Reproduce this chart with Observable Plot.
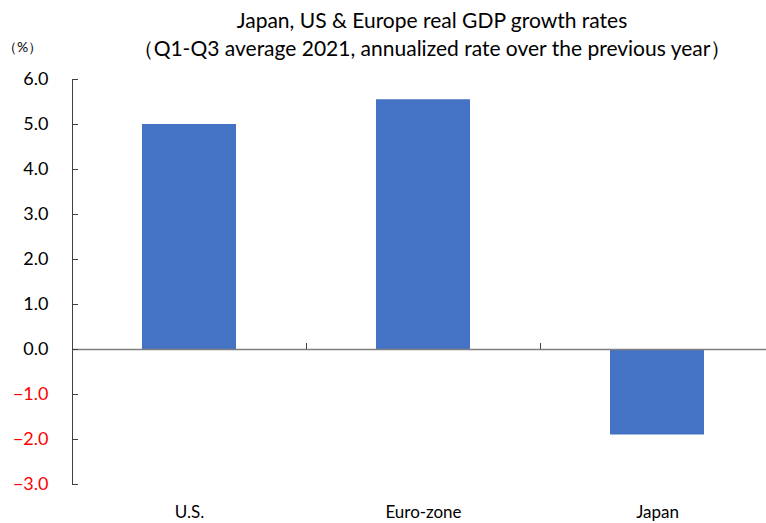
<!DOCTYPE html>
<html>
<head>
<meta charset="utf-8">
<script src="https://cdn.jsdelivr.net/npm/d3@7"></script>
<script src="https://cdn.jsdelivr.net/npm/@observablehq/plot@0.6"></script>
<style>
  html, body { margin: 0; padding: 0; background: #fff; overflow: hidden; }
  #wrap { position: relative; width: 766px; height: 523px; font-family: Lato, "Open Sans", sans-serif; color: #000; }
  #head { position: relative; height: 62px; }
  .t { position: absolute; white-space: nowrap; transform: translateX(-50%); left: 432px; }
  #t1 { top: 7px; font-size: 21px; }
  #t2 { top: 35px; font-size: 21px; }
  #unit { position: absolute; left: 3px; top: 38px; font-size: 14px; }
  svg { display: block; }
</style>
</head>
<body>
<div id="wrap">
  <div id="head">
    <div class="t" id="t1">Japan, US &amp; Europe real GDP growth rates</div>
    <div class="t" id="t2">（Q1-Q3 average 2021, annualized rate over the previous year）</div>
    <div id="unit">（%）</div>
  </div>
  <div id="chart"></div>
</div>
<script>
const categories = ["U.S.", "Euro-zone", "Japan"];
const growth = [5.0, 5.55, -1.9];
const yTicks = [-3, -2, -1, 0, 1, 2, 3, 4, 5, 6];

const data = categories.map((c, i) => ({category: c, value: growth[i]}));
const posTicks = yTicks.filter(d => d >= 0);
const negTicks = yTicks.filter(d => d < 0);

const W = 766, H = 461;
const left = 72, rightEdge = 774;
const step = (rightEdge - left) / categories.length;
const fmt = d3.format(".1f");

const plot = Plot.plot({
  width: W,
  height: H,
  marginTop: 17,
  marginBottom: 39,
  marginLeft: left,
  marginRight: 0,
  style: {fontFamily: "Lato, 'Open Sans', sans-serif", background: "#fff", overflow: "visible"},
  x: {domain: categories, range: [left, rightEdge], paddingInner: 0.6, paddingOuter: 0.3, axis: null, label: null},
  y: {domain: [-3, 6], axis: null, label: null},
  marks: [
    Plot.barY(data, {x: "category", y: "value", fill: "#4472C4"}),
    Plot.ruleY([0], {stroke: "#7f7f7f", strokeWidth: 1.5}),
    Plot.ruleX(categories.slice(0, -1), {x: d => d, y1: 0, y2: 0, insetTop: -6, dx: step / 2, stroke: "#404040"}),
    Plot.frame({anchor: "left", stroke: "#404040"}),
    Plot.axisY(yTicks, {tickSize: -6, tickFormat: () => "", stroke: "#404040", label: null}),
    Plot.axisY(posTicks, {tickSize: 0, tickPadding: 24, tickFormat: fmt, fill: "#000", fontSize: 18, label: null}),
    Plot.axisY(negTicks, {tickSize: 0, tickPadding: 24, tickFormat: fmt, fill: "#ff0000", fontSize: 18, label: null}),
    Plot.axisX(categories, {anchor: "bottom", tickSize: 0, tickPadding: 21, fill: "#000", fontSize: 17, label: null})
  ]
});
document.getElementById("chart").appendChild(plot);
</script>
</body>
</html>
